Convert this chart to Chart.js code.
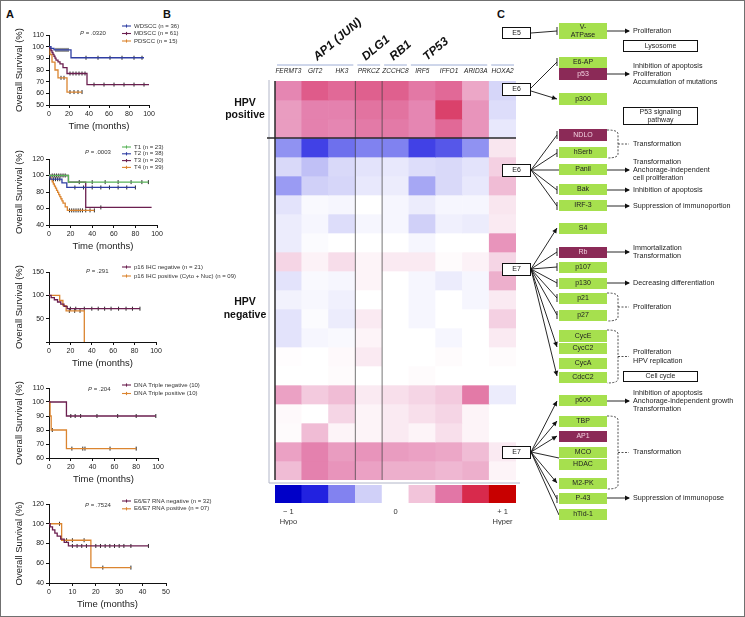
<!DOCTYPE html>
<html>
<head>
<meta charset="utf-8">
<script src="https://cdn.jsdelivr.net/npm/chart.js@4.4.1/dist/chart.umd.min.js"></script>
<style>
  html, body { margin: 0; padding: 0; background: #fff; }
  #fig { position: relative; width: 745px; height: 617px; overflow: hidden; background: #fff; }
  #fig canvas { position: absolute; }
  .frame { position: absolute; left: 0; top: 0; width: 745px; height: 617px; box-sizing: border-box; border: 1px solid #707070; pointer-events: none; }
  .panel { position: absolute; font: bold 11px 'Liberation Sans', Arial, sans-serif; color: #111; }
</style>
</head>
<body>
<div id="fig">
  <div class="panel" style="left:6px;top:8px">A</div>
  <div class="panel" style="left:163px;top:8px">B</div>
  <div class="panel" style="left:497px;top:8px">C</div>
  <canvas id="km1"></canvas>
  <canvas id="km2"></canvas>
  <canvas id="km3"></canvas>
  <canvas id="km4"></canvas>
  <canvas id="km5"></canvas>
  <canvas id="heat"></canvas>
  <canvas id="colorbar"></canvas>
  <canvas id="pathway"></canvas>
  <div class="frame"></div>
</div>
<script>
const NARROW = "'Liberation Sans Narrow', 'Liberation Sans', Arial, sans-serif";
const SANS = "'Liberation Sans', Arial, sans-serif";

// ---- Panel A: Kaplan-Meier curves (time in months, survival in %) ----
const wdsccTime = [0, 2, 5, 22, 95];
const wdsccSurv = [100, 98.5, 97.2, 90.5, 90.5];
const wdsccCens = [7, 9, 11, 13, 15, 17, 19, 37, 49, 61, 73, 85, 93];
const mdsccTime = [0, 1, 2, 3, 4, 5, 6, 7, 9, 11, 14, 18, 38, 100];
const mdsccSurv = [100, 98.4, 96.7, 95, 93.4, 91.8, 90.1, 88.5, 86.9, 85.2, 82, 77, 67.5, 67.5];
const mdsccCens = [21, 24, 27, 30, 33, 36, 45, 55, 65, 75, 85, 95];
const pdsccTime = [0, 1, 3, 6, 9, 18, 33];
const pdsccSurv = [100, 93.3, 86.7, 80, 73.3, 61.1, 61.1];
const pdsccCens = [12, 15, 21, 25, 29, 33];

const t1Time = [0, 18, 92];
const t1Surv = [100, 92, 92];
const t1Cens = [3, 5, 7, 9, 11, 13, 15, 28, 40, 52, 64, 76, 86, 92];
const t2Time = [0, 1, 12, 16.5, 80];
const t2Surv = [100, 95.5, 91, 85.5, 85.5];
const t2Cens = [4, 6, 8, 10, 24, 32, 40, 48, 56, 64, 72, 80];
const t3Time = [0, 18, 34, 95];
const t3Surv = [100, 92, 61.3, 61.3];
const t3Cens = [48];
const t4Time = [0, 1, 2, 3, 4, 5, 6, 7, 8, 9, 10, 11, 12, 13, 15, 17, 42];
const t4Surv = [100, 97.4, 94.9, 92.3, 89.7, 87.2, 84.6, 82, 79.5, 76.9, 74.4, 71.8, 69.2, 66.5, 62, 57.7, 57.7];
const t4Cens = [19, 21, 23, 25, 27, 29, 31, 34, 38, 42];

const p16NegTime = [0, 2, 5, 8, 11, 14, 17, 85];
const p16NegSurv = [100, 95.2, 90.5, 85.7, 81, 76.2, 71.4, 71.4];
const p16NegCens = [20, 25, 33, 40, 46, 52, 58, 65, 72, 78, 85];
const p16PosTime = [0, 10, 13, 16, 33];
const p16PosSurv = [100, 88.9, 77.8, 66.7, 0];
const p16PosCens = [19, 24, 29];

const dnaNegTime = [0, 16, 98];
const dnaNegSurv = [100, 90, 90];
const dnaNegCens = [20, 24, 29, 44, 63, 80, 98];
const dnaPosTime = [0, 1, 2, 16, 80];
const dnaPosSurv = [100, 90, 80, 66.7, 66.7];
const dnaPosCens = [3, 21, 31, 33, 56, 80];

const rnaNegTime = [0, 0.5, 1.5, 2.5, 3.5, 5, 6.5, 8.3, 42.5];
const rnaNegSurv = [100, 96.9, 93.8, 90.6, 87.5, 84.4, 81.2, 77.5, 77.5];
const rnaNegCens = [10, 12, 14, 16, 20, 22, 24, 26, 28, 30, 32, 35, 42.5];
const rnaPosTime = [0, 5.4, 17.9, 35];
const rnaPosSurv = [100, 83.3, 55.6, 55.6];
const rnaPosCens = [4.5, 7.5, 10, 15, 23, 35];

// ---- Panel B: methylation heat map (-1 hypo .. +1 hyper) ----
const genes = ['FERMT3', 'GIT2', 'HK3', 'PRKCZ', 'ZCCHC8', 'IRF5', 'IFFO1', 'ARID3A', 'HOXA2'];
const geneGroups = [
  { name: 'AP1 (JUN)', from: 0, to: 2, shift: 2 },
  { name: 'DLG1', from: 3, to: 3, shift: -3 },
  { name: 'RB1', from: 4, to: 4, shift: -2 },
  { name: 'TP53', from: 5, to: 7, shift: -22 },
  { name: '', from: 8, to: 8, shift: 0 }
];
const hpvPositive = [
  [0.50, 0.68, 0.62, 0.66, 0.66, 0.56, 0.62, 0.38, -0.22],
  [0.42, 0.52, 0.52, 0.58, 0.58, 0.50, 0.78, 0.45, -0.18],
  [0.42, 0.52, 0.50, 0.55, 0.55, 0.50, 0.62, 0.45, -0.12]
];
const hpvNegative = [
  [-0.45, -0.68, -0.55, -0.50, -0.50, -0.68, -0.62, -0.45, 0.12],
  [-0.20, -0.30, -0.20, -0.15, -0.12, -0.18, -0.20, -0.15, 0.22],
  [-0.42, -0.25, -0.22, -0.12, -0.10, -0.38, -0.20, -0.12, 0.30],
  [-0.15, -0.03, -0.05, 0.00, -0.05, -0.10, -0.05, -0.05, 0.12],
  [-0.10, -0.05, -0.18, -0.05, -0.05, -0.25, -0.08, -0.10, 0.10],
  [-0.10, -0.02, 0.00, 0.00, 0.00, -0.05, 0.00, 0.00, 0.45],
  [0.20, 0.06, 0.16, 0.05, 0.10, 0.10, 0.02, 0.06, 0.20],
  [-0.15, -0.03, -0.05, 0.05, 0.00, -0.05, -0.10, -0.05, 0.35],
  [-0.07, -0.04, -0.08, 0.00, 0.00, -0.05, 0.00, -0.05, 0.10],
  [-0.15, -0.02, -0.10, 0.10, 0.00, -0.05, 0.00, 0.00, 0.22],
  [-0.15, -0.05, -0.03, 0.05, 0.00, 0.00, -0.05, 0.00, 0.10],
  [0.01, 0.00, 0.03, 0.10, 0.00, 0.00, 0.02, 0.00, 0.02],
  [0.00, 0.00, 0.02, 0.00, 0.00, 0.02, 0.00, 0.00, 0.00],
  [0.40, 0.25, 0.30, 0.10, 0.15, 0.20, 0.25, 0.55, -0.10],
  [0.03, 0.00, 0.20, 0.05, 0.10, 0.15, 0.20, 0.05, 0.00],
  [0.02, 0.30, 0.05, 0.05, 0.10, 0.05, 0.15, 0.05, 0.00],
  [0.40, 0.52, 0.42, 0.45, 0.42, 0.40, 0.38, 0.30, 0.10],
  [0.30, 0.52, 0.45, 0.40, 0.35, 0.35, 0.32, 0.35, 0.05]
];
const colorbarLevels = [-1, -0.75, -0.5, -0.25, 0, 0.25, 0.5, 0.75, 1];

// ---- Panel C: HPV oncoprotein interaction diagram ----
const pathBoxes = [
  { t: ['E5'], x: 502, y: 27, w: 29, h: 12, k: 'e' },
  { t: ['V-', 'ATPase'], x: 559, y: 23, w: 48, h: 16, k: 'g' },
  { t: ['Lysosome'], x: 623, y: 40, w: 75, h: 12, k: 'w' },
  { t: ['E6-AP'], x: 559, y: 57, w: 48, h: 11, k: 'g' },
  { t: ['p53'], x: 559, y: 68, w: 48, h: 12, k: 'm' },
  { t: ['E6'], x: 502, y: 83, w: 29, h: 13, k: 'e' },
  { t: ['p300'], x: 559, y: 93, w: 48, h: 12, k: 'g' },
  { t: ['P53 signaling', 'pathway'], x: 623, y: 107, w: 75, h: 18, k: 'w' },
  { t: ['NDLO'], x: 559, y: 129, w: 48, h: 12, k: 'm' },
  { t: ['hSerb'], x: 559, y: 147, w: 48, h: 11, k: 'g' },
  { t: ['Panil'], x: 559, y: 164, w: 48, h: 11, k: 'g' },
  { t: ['E6'], x: 502, y: 164, w: 29, h: 13, k: 'e' },
  { t: ['Bak'], x: 559, y: 184, w: 48, h: 11, k: 'g' },
  { t: ['IRF-3'], x: 559, y: 200, w: 48, h: 11, k: 'g' },
  { t: ['S4'], x: 559, y: 223, w: 48, h: 11, k: 'g' },
  { t: ['Rb'], x: 559, y: 247, w: 48, h: 11, k: 'm' },
  { t: ['E7'], x: 502, y: 263, w: 29, h: 13, k: 'e' },
  { t: ['p107'], x: 559, y: 262, w: 48, h: 11, k: 'g' },
  { t: ['p130'], x: 559, y: 278, w: 48, h: 11, k: 'g' },
  { t: ['p21'], x: 559, y: 293, w: 48, h: 11, k: 'g' },
  { t: ['p27'], x: 559, y: 310, w: 48, h: 11, k: 'g' },
  { t: ['CycE'], x: 559, y: 330, w: 48, h: 12, k: 'g' },
  { t: ['CycC2'], x: 559, y: 343, w: 48, h: 11, k: 'g' },
  { t: ['CycA'], x: 559, y: 358, w: 48, h: 11, k: 'g' },
  { t: ['CdcC2'], x: 559, y: 372, w: 48, h: 11, k: 'g' },
  { t: ['Cell cycle'], x: 623, y: 371, w: 75, h: 11, k: 'w' },
  { t: ['p600'], x: 559, y: 395, w: 48, h: 11, k: 'g' },
  { t: ['TBP'], x: 559, y: 416, w: 48, h: 11, k: 'g' },
  { t: ['AP1'], x: 559, y: 431, w: 48, h: 11, k: 'm' },
  { t: ['E7'], x: 502, y: 446, w: 29, h: 13, k: 'e' },
  { t: ['MCO'], x: 559, y: 447, w: 48, h: 11, k: 'g' },
  { t: ['HDAC'], x: 559, y: 459, w: 48, h: 11, k: 'g' },
  { t: ['M2-PK'], x: 559, y: 478, w: 48, h: 11, k: 'g' },
  { t: ['P-43'], x: 559, y: 493, w: 48, h: 11, k: 'g' },
  { t: ['hTid-1'], x: 559, y: 509, w: 48, h: 11, k: 'g' }
];
const pathLinks = [
  [531, 33, 557, 31, 'bar'],
  [531, 88, 557, 62, 'bar'], [531, 91, 557, 99, 'arrow'],
  [531, 170, 557, 135, 'bar'], [531, 170, 557, 153, 'bar'], [531, 170, 559, 170, 'line'],
  [531, 170, 557, 190, 'bar'], [531, 170, 557, 206, 'bar'],
  [531, 269, 557, 228, 'arrow'], [531, 269, 557, 252, 'bar'], [531, 269, 557, 267, 'bar'],
  [531, 269, 557, 283, 'bar'], [531, 269, 557, 298, 'bar'], [531, 269, 557, 315, 'bar'],
  [531, 269, 557, 347, 'arrow'], [531, 269, 557, 376, 'arrow'],
  [531, 452, 557, 401, 'arrow'], [531, 452, 557, 421, 'arrow'], [531, 452, 557, 436, 'arrow'],
  [531, 452, 559, 458, 'line'], [531, 452, 557, 483, 'arrow'], [531, 452, 557, 499, 'bar'],
  [531, 452, 559, 515, 'line']
];
const pathOutputs = [
  { y: 31, lines: ['Proliferation'] },
  { y: 74, lines: ['Inhibition of apoptosis', 'Proliferation', 'Accumulation of mutations'] },
  { y: 170, lines: ['Transformation', 'Anchorage-independent', 'cell proliferation'] },
  { y: 190, lines: ['Inhibition of apoptosis'] },
  { y: 206, lines: ['Suppression of immunoportion'] },
  { y: 252, lines: ['Immortalization', 'Transformation'] },
  { y: 283, lines: ['Decreasing differentiation'] },
  { y: 401, lines: ['Inhibition of apoptosis', 'Anchorage-independent growth', 'Transformation'] },
  { y: 498, lines: ['Suppression of immunopose'] }
];
const pathBrackets = [
  { y0: 130, y1: 158, lines: ['Transformation'] },
  { y0: 293, y1: 321, lines: ['Proliferation'] },
  { y0: 330, y1: 383, lines: ['Proliferation', 'HPV replication'] },
  { y0: 416, y1: 489, lines: ['Transformation'] }
];

function place(cv, left, top, w, h) {
  cv.width = w; cv.height = h;
  cv.style.left = left + 'px'; cv.style.top = top + 'px';
  cv.style.width = w + 'px'; cv.style.height = h + 'px';
}

function stepLine(time, surv) {
  return time.map((t, i) => ({ x: t, y: surv[i] }));
}
function censorPts(time, surv, cens) {
  return cens.map(c => {
    let s = surv[0];
    time.forEach((t, i) => { if (t <= c) s = surv[i]; });
    return { x: c, y: s };
  });
}

const BLUE = '#2f3ea3', MAROON = '#6b1f4f', ORANGE = '#db8530', GREEN = '#58b358';

const kmLegend = {
  id: 'kmLegend',
  afterDraw(chart, args, opts) {
    const { ctx, chartArea: a } = chart;
    ctx.save();
    ctx.textBaseline = 'middle';
    const items = chart.data.datasets.filter(d => !d.censor);
    items.forEach((d, i) => {
      const y = a.top + opts.dy + i * opts.gap;
      ctx.strokeStyle = d.borderColor; ctx.lineWidth = 1.1;
      ctx.beginPath(); ctx.moveTo(122, y); ctx.lineTo(131, y); ctx.stroke();
      ctx.beginPath(); ctx.moveTo(126.5, y - 1.6); ctx.lineTo(126.5, y + 1.6); ctx.stroke();
      ctx.fillStyle = '#333'; ctx.font = '6px ' + NARROW;
      ctx.fillText(d.label, 134, y);
    });
    const py = a.top + opts.pdy;
    ctx.fillStyle = '#333';
    ctx.font = 'italic 6px ' + NARROW;
    ctx.fillText('P', opts.px, py);
    const w = ctx.measureText('P').width;
    ctx.font = '6px ' + NARROW;
    ctx.fillText(' = ' + opts.p, opts.px + w, py);
    ctx.restore();
  }
};

function makeKM(spec) {
  const cv = document.getElementById(spec.id);
  const top = spec.top - 18, width = 250, height = spec.bottom - top + 30;
  place(cv, 0, top, width, height);
  const datasets = [];
  spec.series.forEach(s => datasets.push({
    label: s.label, data: stepLine(s.time, s.surv), borderColor: s.color, borderWidth: 1.3,
    stepped: true, pointRadius: 0, fill: false, clip: false
  }));
  spec.series.forEach(s => datasets.push({
    label: '', censor: true, data: censorPts(s.time, s.surv, s.cens), showLine: false,
    pointStyle: 'line', pointRotation: 90, pointRadius: 2, pointBorderColor: '#111',
    pointBorderWidth: 0.9, borderColor: '#111', clip: false
  }));
  const tickFont = { family: NARROW, size: 7 };
  new Chart(cv, {
    type: 'line',
    data: { datasets },
    options: {
      responsive: false, animation: false,
      layout: { padding: { left: 12, top: 18, right: width - spec.right, bottom: 2 } },
      plugins: {
        legend: { display: false }, tooltip: { enabled: false },
        kmLegend: { dy: spec.legDy, gap: spec.legGap, p: spec.p, px: spec.px, pdy: spec.pdy }
      },
      scales: {
        x: {
          type: 'linear', min: 0, max: spec.xMax,
          ticks: { stepSize: spec.xStep, font: tickFont, color: '#222', padding: 2, maxRotation: 0, autoSkip: false },
          grid: { drawOnChartArea: false, tickLength: 3, color: '#111' },
          border: { color: '#111', width: 1 },
          title: { display: true, text: 'Time (months)', font: { family: NARROW, size: 9.5 }, color: '#222', padding: { top: 1, bottom: 1 } },
          afterFit: s => { s.height = 28; }
        },
        y: {
          min: spec.yMin, max: spec.yMax,
          ticks: { stepSize: spec.yStep, font: tickFont, color: '#222', padding: 2,
                   callback: v => (spec.hideZero && v === 0) ? '' : v },
          grid: { drawOnChartArea: false, tickLength: 3, color: '#111' },
          border: { color: '#111', width: 1 },
          title: { display: true, text: 'Overall Survival (%)', font: { family: NARROW, size: 9.5 }, color: '#222', padding: { top: 2, bottom: 1 } },
          afterFit: s => { s.width = 37; }
        }
      }
    },
    plugins: [kmLegend]
  });
}

makeKM({ id: 'km1', top: 35, bottom: 105, right: 149, xMax: 100, xStep: 20, yMin: 50, yMax: 110, yStep: 10,
  p: '.0320', px: 80, pdy: -2, legDy: -9, legGap: 7.5,
  series: [
    { label: 'WDSCC (n = 36)', color: BLUE, time: wdsccTime, surv: wdsccSurv, cens: wdsccCens },
    { label: 'MDSCC (n = 61)', color: MAROON, time: mdsccTime, surv: mdsccSurv, cens: mdsccCens },
    { label: 'PDSCC (n = 15)', color: ORANGE, time: pdsccTime, surv: pdsccSurv, cens: pdsccCens }
  ] });
makeKM({ id: 'km2', top: 159, bottom: 225, right: 157, xMax: 100, xStep: 20, yMin: 40, yMax: 120, yStep: 20,
  p: '.0003', px: 85, pdy: -7, legDy: -12, legGap: 6.8,
  series: [
    { label: 'T1 (n = 23)', color: GREEN, time: t1Time, surv: t1Surv, cens: t1Cens },
    { label: 'T2 (n = 38)', color: BLUE, time: t2Time, surv: t2Surv, cens: t2Cens },
    { label: 'T3 (n = 20)', color: MAROON, time: t3Time, surv: t3Surv, cens: t3Cens },
    { label: 'T4 (n = 39)', color: ORANGE, time: t4Time, surv: t4Surv, cens: t4Cens }
  ] });
makeKM({ id: 'km3', top: 272, bottom: 342, right: 156, xMax: 100, xStep: 20, yMin: 0, yMax: 150, yStep: 50, hideZero: true,
  p: '.291', px: 86, pdy: -1, legDy: -5, legGap: 9,
  series: [
    { label: 'p16 IHC negative (n = 21)', color: MAROON, time: p16NegTime, surv: p16NegSurv, cens: p16NegCens },
    { label: 'p16 IHC positive (Cyto + Nuc) (n = 09)', color: ORANGE, time: p16PosTime, surv: p16PosSurv, cens: p16PosCens }
  ] });
makeKM({ id: 'km4', top: 388, bottom: 458, right: 158, xMax: 100, xStep: 20, yMin: 60, yMax: 110, yStep: 10,
  p: '.204', px: 88, pdy: 1, legDy: -3, legGap: 8.5,
  series: [
    { label: 'DNA Triple negative (10)', color: MAROON, time: dnaNegTime, surv: dnaNegSurv, cens: dnaNegCens },
    { label: 'DNA Triple positive (10)', color: ORANGE, time: dnaPosTime, surv: dnaPosSurv, cens: dnaPosCens }
  ] });
makeKM({ id: 'km5', top: 504, bottom: 583, right: 166, xMax: 50, xStep: 10, yMin: 40, yMax: 120, yStep: 20,
  p: '.7524', px: 85, pdy: 1, legDy: -3, legGap: 7.8,
  series: [
    { label: 'E6/E7 RNA negative (n = 32)', color: MAROON, time: rnaNegTime, surv: rnaNegSurv, cens: rnaNegCens },
    { label: 'E6/E7 RNA positive (n = 07)', color: ORANGE, time: rnaPosTime, surv: rnaPosSurv, cens: rnaPosCens }
  ] });

// ---- heat map ----
const heatStops = [
  [-1, [0, 0, 200]], [-0.75, [40, 40, 226]], [-0.5, [128, 130, 240]], [-0.25, [208, 208, 248]],
  [0, [255, 255, 255]], [0.25, [243, 202, 222]], [0.5, [229, 134, 178]], [0.75, [220, 74, 122]], [1, [200, 0, 0]]
];
function heatColor(v) {
  for (let i = 1; i < heatStops.length; i++) {
    const [v1, c1] = heatStops[i], [v0, c0] = heatStops[i - 1];
    if (v <= v1) {
      const f = (v - v0) / (v1 - v0);
      const c = c0.map((c, j) => Math.round(c + (c1[j] - c) * f));
      return 'rgb(' + c.join(',') + ')';
    }
  }
  return 'rgb(200,0,0)';
}
// the key keeps its own saturated steps
const colorbarColors = ['#0000c8', '#2222e0', '#8282f0', '#d0d0f8', '#ffffff', '#f2c4da', '#e276a6', '#d82a4c', '#c80000'];

const heatDecor = {
  id: 'heatDecor',
  afterDraw(chart) {
    const { ctx, chartArea: a, scales: { y } } = chart;
    const cw = (a.right - a.left) / genes.length;
    ctx.save();
    // light frame
    ctx.strokeStyle = '#b2b6c8'; ctx.lineWidth = 1;
    ctx.beginPath(); ctx.moveTo(a.left - 6, a.top - 1); ctx.lineTo(a.left - 6, a.bottom + 3); ctx.lineTo(a.right + 5, a.bottom + 3); ctx.stroke();
    // group boundaries inside the map
    ctx.strokeStyle = 'rgba(60,60,60,0.7)'; ctx.lineWidth = 1;
    [3, 4].forEach(k => {
      const xx = a.left + k * cw;
      ctx.beginPath(); ctx.moveTo(xx, a.top); ctx.lineTo(xx, a.bottom); ctx.stroke();
    });
    // left border and HPV+/- separator
    ctx.strokeStyle = '#2a2a2a'; ctx.lineWidth = 1.5;
    ctx.beginPath(); ctx.moveTo(a.left, a.top); ctx.lineTo(a.left, a.bottom); ctx.stroke();
    const sepY = y.getPixelForValue(hpvPositive.length);
    ctx.beginPath(); ctx.moveTo(a.left - 8, sepY); ctx.lineTo(a.right, sepY); ctx.stroke();
    // group underlines and rotated labels
    geneGroups.forEach(g => {
      const x0 = a.left + g.from * cw + 2, x1 = a.left + (g.to + 1) * cw - 2;
      ctx.strokeStyle = '#9eaed6'; ctx.lineWidth = 1;
      ctx.beginPath(); ctx.moveTo(x0, a.top - 16); ctx.lineTo(x1, a.top - 16); ctx.stroke();
      if (g.name) {
        const cx = (x0 + x1) / 2 + g.shift;
        ctx.save();
        ctx.translate(cx, a.top - 20);
        ctx.rotate(-40 * Math.PI / 180);
        ctx.font = 'italic bold 12px ' + SANS;
        ctx.fillStyle = '#111'; ctx.textBaseline = 'alphabetic'; ctx.textAlign = 'left';
        ctx.fillText(g.name, 0, 0);
        ctx.restore();
      }
    });
    // HPV group labels
    ctx.font = 'bold 10.5px ' + SANS; ctx.fillStyle = '#111';
    ctx.textAlign = 'center'; ctx.textBaseline = 'middle';
    const lx = a.left - 30;
    const yPos = y.getPixelForValue(hpvPositive.length / 2);
    ctx.fillText('HPV', lx, yPos - 6.5); ctx.fillText('positive', lx, yPos + 6);
    const yNeg = y.getPixelForValue(12);
    ctx.fillText('HPV', lx, yNeg - 6.5); ctx.fillText('negative', lx, yNeg + 6);
    ctx.restore();
  }
};

const allRows = hpvPositive.concat(hpvNegative);
const heatCv = document.getElementById('heat');
place(heatCv, 170, 0, 350, 492);
new Chart(heatCv, {
  type: 'bar',
  data: {
    labels: genes,
    datasets: allRows.map(row => ({
      data: row.map(() => 1), backgroundColor: row.map(heatColor),
      borderWidth: 0, barPercentage: 1, categoryPercentage: 1, stack: 'h'
    }))
  },
  options: {
    responsive: false, animation: false,
    layout: { padding: { left: 105, right: 4, top: 67, bottom: 12 } },
    plugins: { legend: { display: false }, tooltip: { enabled: false } },
    scales: {
      x: {
        position: 'top', stacked: true,
        grid: { display: false, drawTicks: false }, border: { display: false },
        ticks: { font: { family: NARROW, size: 6.5, style: 'italic' }, color: '#222', padding: 6, maxRotation: 0, autoSkip: false },
        afterFit: s => { s.height = 14; }
      },
      y: { display: false, stacked: true, reverse: true, min: 0, max: allRows.length }
    }
  },
  plugins: [heatDecor]
});

// ---- colour key ----
const cbCv = document.getElementById('colorbar');
place(cbCv, 270, 482, 252, 48);
new Chart(cbCv, {
  type: 'bar',
  data: {
    labels: colorbarLevels.map(String),
    datasets: [{ data: colorbarLevels.map(() => 1), backgroundColor: colorbarColors, borderWidth: 0, barPercentage: 1, categoryPercentage: 1 }]
  },
  options: {
    responsive: false, animation: false,
    layout: { padding: { left: 5, right: 6, top: 3, bottom: 5 } },
    plugins: { legend: { display: false }, tooltip: { enabled: false } },
    scales: {
      x: {
        grid: { display: false, drawTicks: false }, border: { display: false },
        ticks: {
          font: { family: NARROW, size: 7.5, lineHeight: 1.45 }, color: '#333', padding: 3, maxRotation: 0, autoSkip: false,
          callback: (v, i) => i === 0 ? ['\u2212 1', 'Hypo'] : i === 4 ? '0' : i === 8 ? ['+ 1', 'Hyper'] : ''
        },
        afterFit: s => { s.height = 22; }
      },
      y: { display: false, min: 0, max: 1 }
    }
  }
});

// ---- Panel C ----
const pathwayDiagram = {
  id: 'pathwayDiagram',
  afterDraw(chart) {
    const { ctx, scales: { x, y } } = chart;
    const X = v => x.getPixelForValue(v), Y = v => y.getPixelForValue(v);
    ctx.save();
    ctx.strokeStyle = '#111'; ctx.fillStyle = '#111'; ctx.lineWidth = 0.9;

    function arrowHead(x0, y0, x1, y1) {
      const ang = Math.atan2(y1 - y0, x1 - x0), L = 5, W = 2.4;
      ctx.beginPath();
      ctx.moveTo(x1, y1);
      ctx.lineTo(x1 - L * Math.cos(ang) + W * Math.sin(ang), y1 - L * Math.sin(ang) - W * Math.cos(ang));
      ctx.lineTo(x1 - L * Math.cos(ang) - W * Math.sin(ang), y1 - L * Math.sin(ang) + W * Math.cos(ang));
      ctx.closePath(); ctx.fill();
    }

    pathLinks.forEach(([x0, y0, x1, y1, kind]) => {
      const a0 = X(x0), b0 = Y(y0), a1 = X(x1), b1 = Y(y1);
      ctx.beginPath(); ctx.moveTo(a0, b0); ctx.lineTo(a1, b1); ctx.stroke();
      if (kind === 'arrow') arrowHead(a0, b0, a1, b1);
      if (kind === 'bar') {
        ctx.beginPath(); ctx.moveTo(a1, b1 - 4); ctx.lineTo(a1, b1 + 4); ctx.stroke();
      }
    });

    pathBoxes.forEach(b => {
      const bx = X(b.x), by = Y(b.y), bw = X(b.x + b.w) - bx, bh = Y(b.y + b.h) - by;
      if (b.k === 'g' || b.k === 'm') {
        ctx.fillStyle = b.k === 'g' ? '#a6e04e' : '#8b2a57';
        ctx.fillRect(bx, by, bw, bh);
      } else {
        ctx.fillStyle = '#fff'; ctx.fillRect(bx, by, bw, bh);
        ctx.strokeStyle = '#111'; ctx.lineWidth = 1;
        ctx.strokeRect(bx + 0.5, by + 0.5, bw - 1, bh - 1);
      }
      ctx.fillStyle = b.k === 'm' ? '#f2d0df' : '#222';
      ctx.font = '7px ' + SANS; ctx.textAlign = 'center'; ctx.textBaseline = 'middle';
      const n = b.t.length;
      b.t.forEach((s, i) => ctx.fillText(s, bx + bw / 2, by + bh / 2 + (i - (n - 1) / 2) * 7.5));
    });

    function label(lines, cy) {
      ctx.fillStyle = '#222'; ctx.font = '7.2px ' + SANS;
      ctx.textAlign = 'left'; ctx.textBaseline = 'middle';
      const n = lines.length;
      lines.forEach((s, i) => ctx.fillText(s, X(633), Y(cy) + (i - (n - 1) / 2) * 8.3));
    }

    ctx.lineWidth = 0.9;
    pathOutputs.forEach(o => {
      ctx.strokeStyle = '#111'; ctx.fillStyle = '#111';
      ctx.beginPath(); ctx.moveTo(X(607), Y(o.y)); ctx.lineTo(X(629), Y(o.y)); ctx.stroke();
      arrowHead(X(607), Y(o.y), X(630), Y(o.y));
      label(o.lines, o.y);
    });

    pathBrackets.forEach(br => {
      const mid = (br.y0 + br.y1) / 2;
      ctx.strokeStyle = '#222'; ctx.lineWidth = 0.8; ctx.setLineDash([2, 1.5]);
      ctx.beginPath();
      ctx.moveTo(X(607), Y(br.y0)); ctx.quadraticCurveTo(X(618), Y(br.y0), X(618), Y(br.y0 + 4));
      ctx.lineTo(X(618), Y(br.y1 - 4)); ctx.quadraticCurveTo(X(618), Y(br.y1), X(607), Y(br.y1));
      ctx.moveTo(X(618), Y(mid)); ctx.lineTo(X(629), Y(mid));
      ctx.stroke();
      ctx.setLineDash([]);
      label(br.lines, mid);
    });
    ctx.restore();
  }
};

const pathCv = document.getElementById('pathway');
place(pathCv, 490, 0, 255, 617);
new Chart(pathCv, {
  type: 'scatter',
  data: { datasets: [] },
  options: {
    responsive: false, animation: false,
    layout: { padding: 0 },
    plugins: { legend: { display: false }, tooltip: { enabled: false } },
    scales: {
      x: { display: false, min: 490, max: 745 },
      y: { display: false, min: 0, max: 617, reverse: true }
    }
  },
  plugins: [pathwayDiagram]
});
</script>
</body>
</html>
